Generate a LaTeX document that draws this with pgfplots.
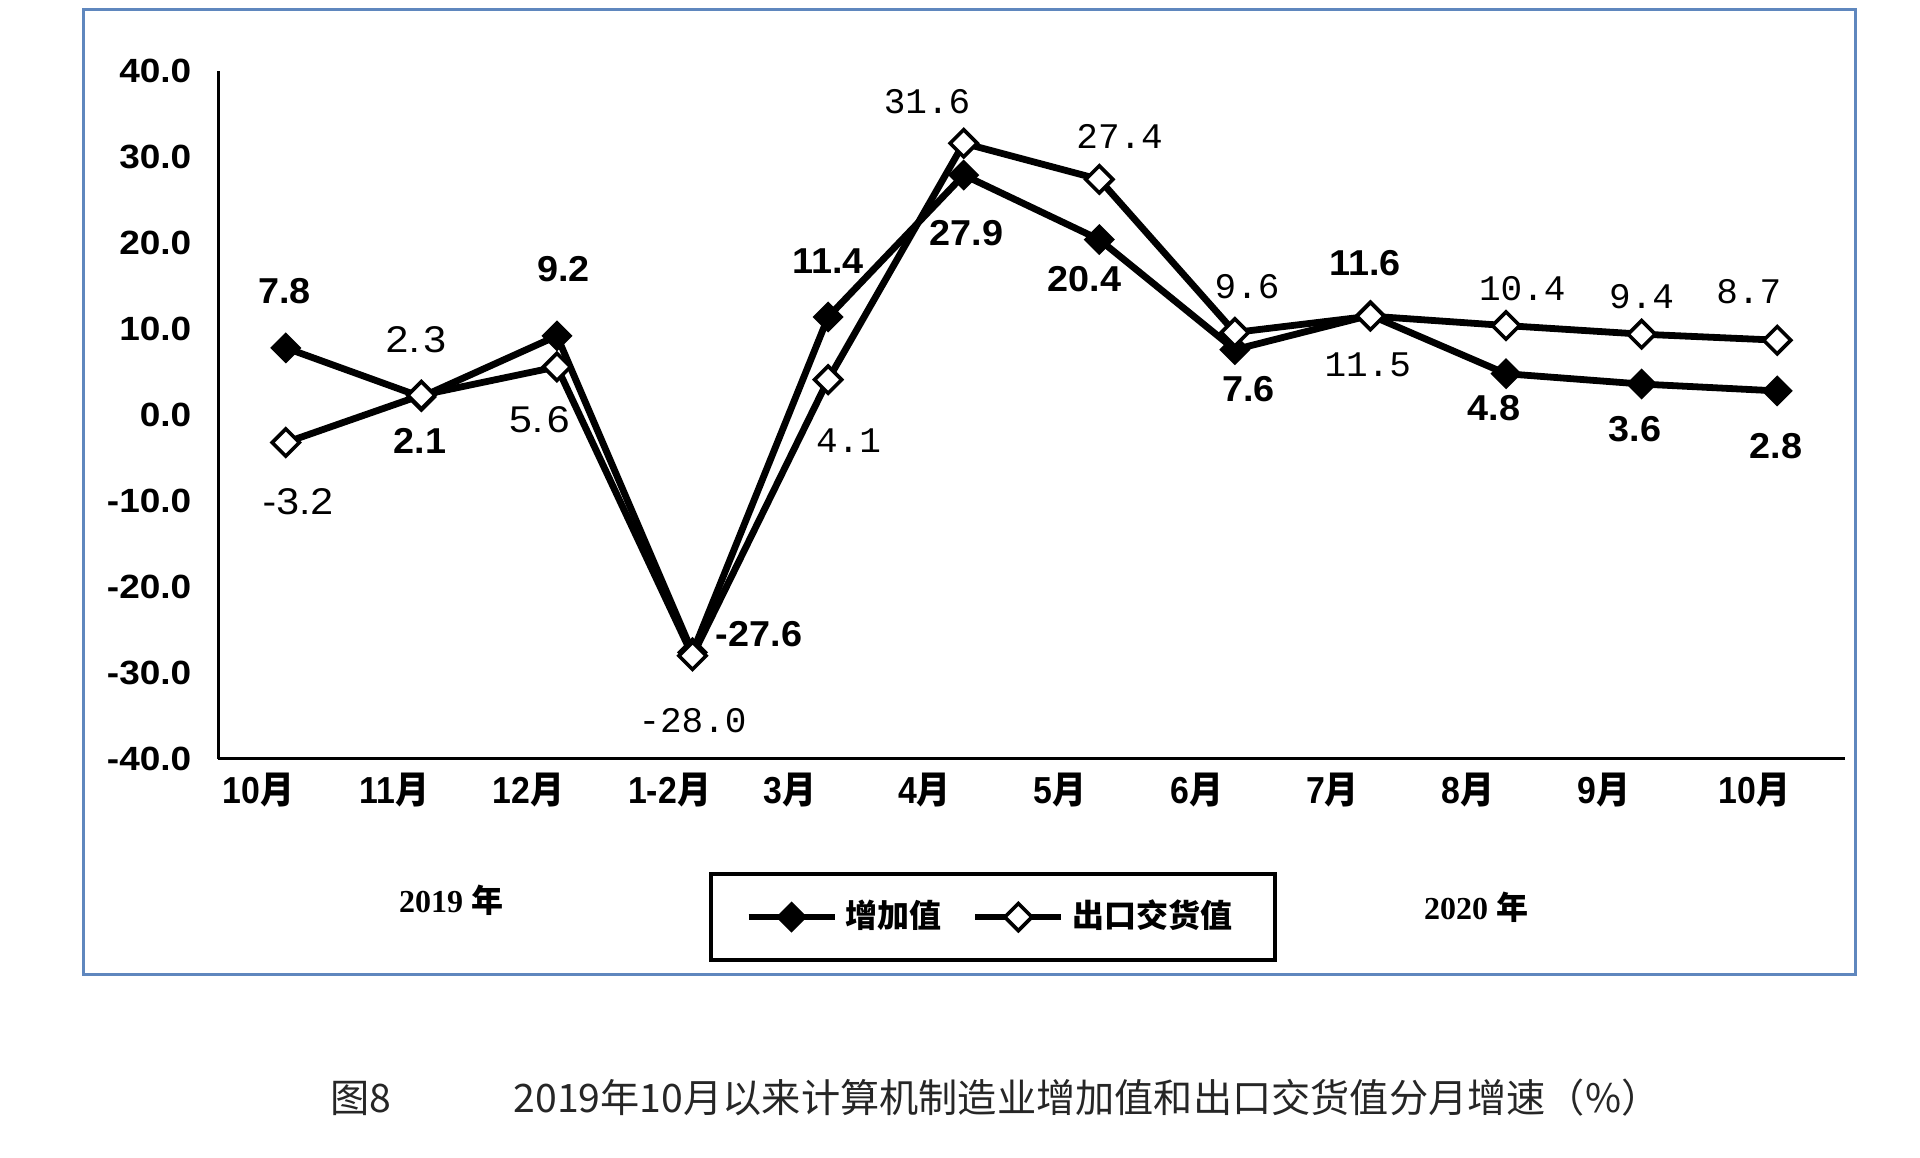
\documentclass[border=0pt]{standalone}
\usepackage{graphicx}
\usepackage{fontspec}
\usepackage{pgfplots}
\pgfplotsset{compat=1.18}
\setmainfont{Liberation Sans}
\newfontfamily\cjk{Noto Sans CJK SC}
\newfontfamily\mono{Liberation Mono}
\newfontfamily\serifb{Liberation Serif}
\definecolor{framecol}{RGB}{95,135,190}
\newcommand\yt[1]{\scalebox{1.1}[1]{#1}}
\newcommand\xt[1]{\scalebox{0.9}[1]{#1{\cjk\bfseries 月}}}
\newcommand\lb[1]{\scalebox{1.05}[1]{#1}}
\newcommand\lc[1]{\scalebox{1.1}[1]{#1}}
\tikzset{
  s1/.style={font=\fontsize{9}{10}\selectfont\bfseries, inner sep=0pt},
  s2/.style={font=\fontsize{9}{10}\selectfont\mono, inner sep=0pt},
  s2b/.style={font=\fontsize{9.3}{10}\selectfont, inner sep=0pt},
}
\begin{document}
\begin{tikzpicture}[x=0.25pt,y=0.25pt]
\fill[white] (0,0) rectangle (1920,1158);
\draw[framecol, line width=0.75pt] (83,183) rectangle (1855,1148);
\begin{axis}[
  at={(54.5pt,99.75pt)}, anchor=south west, scale only axis,
  width=406.75pt, height=172pt,
  xmin=-0.5, xmax=11.5, ymin=-40, ymax=40,
  axis x line*=bottom, axis y line*=left,
  axis line style={-, line width=0.75pt, black},
  major tick length=0pt,
  xtick={-0.20,0.80,1.79,2.83,3.72,4.71,5.71,6.72,7.72,8.72,9.72,10.83},
  xticklabels={\xt{10},\xt{11},\xt{12},\xt{1-2},\xt{3},\xt{4},\xt{5},\xt{6},\xt{7},\xt{8},\xt{9},\xt{10}},
  xticklabel style={font=\fontsize{9.4}{10}\selectfont\bfseries, anchor=north, inner sep=0pt, yshift=-3.25pt},
  ytick={-40,-30,...,40},
  yticklabels={\yt{-40.0},\yt{-30.0},\yt{-20.0},\yt{-10.0},\yt{0.0},\yt{10.0},\yt{20.0},\yt{30.0},\yt{40.0}},
  yticklabel style={font=\fontsize{8.4}{10}\selectfont\bfseries, anchor=east, inner sep=0pt, xshift=-6.5pt},
  clip=false,
  legend columns=2,
  legend style={at={(0.4763,-0.2297)}, anchor=center, draw=black, line width=1pt,
    font=\cjk\bfseries\fontsize{8}{10}\selectfont, inner xsep=8.5pt, inner ysep=4.5pt,
    /tikz/every even column/.append style={column sep=5.5pt}},
  legend image code/.code={\draw[#1, mark repeat=2, mark phase=2] plot coordinates {(0pt,0pt) (10.75pt,0pt) (21.5pt,0pt)};},
]
\addplot[black, line width=1.7pt, mark=square*, mark size=2.5pt,
  mark options={solid, rotate=45, fill=black, line width=0.5pt}]
  coordinates {(0,7.8) (1,2.1) (2,9.2) (3,-27.6) (4,11.4) (5,27.9) (6,20.4) (7,7.6) (8,11.6) (9,4.8) (10,3.6) (11,2.8)};
\addplot[black, line width=1.7pt, mark=square*, mark size=2.4pt,
  mark options={solid, rotate=45, fill=white, draw=black, line width=0.9pt}]
  coordinates {(0,-3.2) (1,2.3) (2,5.6) (3,-28.0) (4,4.1) (5,31.6) (6,27.4) (7,9.6) (8,11.5) (9,10.4) (10,9.4) (11,8.7)};
\legend{增加值,出口交货值}
% series 1 labels
\node[s1] at (axis cs:-0.01,14.4) {\lb{7.8}};
\node[s1] at (axis cs:0.99,-3.0) {\lb{2.1}};
\node[s1] at (axis cs:2.05,17.0) {\lb{9.2}};
\node[s1] at (axis cs:3.49,-25.5) {\lb{-27.6}};
\node[s1] at (axis cs:4.0,17.9) {\lb{11.4}};
\node[s1] at (axis cs:5.02,21.2) {\lb{27.9}};
\node[s1] at (axis cs:5.89,15.8) {\lb{20.4}};
\node[s1] at (axis cs:7.1,3.0) {\lb{7.6}};
\node[s1] at (axis cs:7.96,17.7) {\lb{11.6}};
\node[s1] at (axis cs:8.91,0.8) {\lb{4.8}};
\node[s1] at (axis cs:9.95,-1.6) {\lb{3.6}};
\node[s1] at (axis cs:10.99,-3.6) {\lb{2.8}};
% series 2 labels
\node[s2b] at (axis cs:0.09,-10.1) {\lc{-3.2}};
\node[s2b] at (axis cs:0.96,8.7) {\lc{2.\kern0.8pt3}};
\node[s2b] at (axis cs:1.87,-0.6) {\lc{5.\kern0.8pt6}};
\node[s2] at (axis cs:3.0,-35.5) {-28.0};
\node[s2] at (axis cs:4.15,-3.0) {4.1};
\node[s2] at (axis cs:4.73,36.4) {31.6};
\node[s2] at (axis cs:6.15,32.4) {27.4};
\node[s2] at (axis cs:7.09,14.9) {9.6};
\node[s2] at (axis cs:7.98,5.8) {11.5};
\node[s2] at (axis cs:9.12,14.65) {10.4};
\node[s2] at (axis cs:10.0,13.8) {9.4};
\node[s2] at (axis cs:10.79,14.4) {8.7};
\end{axis}
\node[font=\serifb\bfseries\fontsize{8}{10}\selectfont] at (451,258) {2019 {\cjk\bfseries 年}};
\node[font=\serifb\bfseries\fontsize{8}{10}\selectfont] at (1476,251) {2020 {\cjk\bfseries 年}};
\node[font=\cjk\fontsize{9.8}{12}\selectfont, text=black!85] at (361,60) {图8};
\node[font=\cjk\fontsize{9.8}{12}\selectfont, text=black!85] at (1087,60) {2019年10月以来计算机制造业增加值和出口交货值分月增速（\%）};
\end{tikzpicture}
\end{document}
